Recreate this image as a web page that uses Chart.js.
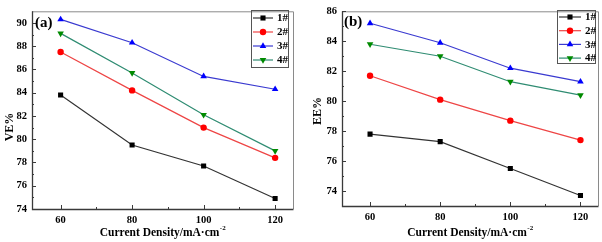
<!DOCTYPE html>
<html>
<head>
<meta charset="utf-8">
<script src="https://cdn.jsdelivr.net/npm/chart.js@4.4.0/dist/chart.umd.min.js"></script>
<style>
  html, body { margin: 0; padding: 0; background: #fff; }
  #wrap { position: relative; width: 602px; height: 242px; }
  #veChart { position: absolute; left: 0; top: 0; }
  #eeChart { position: absolute; left: 300px; top: 0; }
</style>
</head>
<body>
<div id="wrap">
  <canvas id="veChart" width="300" height="242"></canvas>
  <canvas id="eeChart" width="302" height="242"></canvas>
</div>
<script>
// current density (mA/cm2)
const currents = [60, 80, 100, 120];
const seriesNames = ['1#', '2#', '3#', '4#'];

// VE% values
const ve1 = [83.8, 79.5, 77.7, 74.9];
const ve2 = [87.5, 84.2, 81.0, 78.4];
const ve3 = [90.3, 88.3, 85.4, 84.3];
const ve4 = [89.1, 85.7, 82.1, 79.0];

// EE% values
const ee1 = [77.8, 77.3, 75.5, 73.7];
const ee2 = [81.7, 80.1, 78.7, 77.4];
const ee3 = [85.2, 83.9, 82.2, 81.3];
const ee4 = [83.8, 83.0, 81.3, 80.4];

// ticks
const xTicks = [60, 80, 100, 120];
const xMinor = [70, 90, 110];
const veTicks = [74, 76, 78, 80, 82, 84, 86, 88, 90];
const veMinor = [75, 77, 79, 81, 83, 85, 87, 89];
const eeTicks = [74, 76, 78, 80, 82, 84, 86];
const eeMinor = [75, 77, 79, 81, 83, 85];

const lineColors = ['#333333', '#ee4545', '#3a3ad0', '#2f8c72'];
const markColors = ['#000000', '#ff0000', '#0000ff', '#008a00'];
const markStyles = ['rect', 'circle', 'triangle', 'triangle'];
const markRot = [0, 0, 0, 180];
const markRadius = [3.6, 3.2, 3.8, 3.8];

const serif = '"Liberation Serif", "Times New Roman", serif';

function makeDatasets(seriesList) {
    let sets = [];
    for (let i = 0; i < seriesList.length; i++) {
        sets.push({
            label: seriesNames[i],
            data: currents.map((c, j) => ({ x: c, y: seriesList[i][j] })),
            borderColor: lineColors[i],
            borderWidth: 1.2,
            backgroundColor: markColors[i],
            pointBackgroundColor: markColors[i],
            pointBorderColor: markColors[i],
            pointBorderWidth: 0,
            pointStyle: markStyles[i],
            pointRotation: markRot[i],
            pointRadius: markRadius[i],
            tension: 0
        });
    }
    return sets;
}

// frame, inward ticks, titles and in-plot legend
const decorPlugin = {
    id: 'decor',
    afterDraw(chart, args, opts) {
        const ctx = chart.ctx;
        const a = chart.chartArea;
        const xs = chart.scales.x, ys = chart.scales.y;
        ctx.save();

        // frame
        ctx.strokeStyle = '#8a8a8a';
        ctx.lineWidth = 1;
        ctx.beginPath();
        ctx.moveTo(a.left, a.top + 0.5);
        ctx.lineTo(a.right + 0.5, a.top + 0.5);
        ctx.lineTo(a.right + 0.5, a.bottom);
        ctx.stroke();
        ctx.strokeStyle = '#3a3a3a';
        ctx.lineWidth = 1.3;
        ctx.beginPath();
        ctx.moveTo(a.left + 0.5, a.top);
        ctx.lineTo(a.left + 0.5, a.bottom + 0.5);
        ctx.lineTo(a.right + 0.5, a.bottom + 0.5);
        ctx.stroke();

        // inward ticks
        ctx.lineWidth = 1;
        ctx.strokeStyle = '#3a3a3a';
        ctx.beginPath();
        xTicks.forEach(v => {
            let px = Math.round(xs.getPixelForValue(v)) + 0.5;
            ctx.moveTo(px, a.bottom); ctx.lineTo(px, a.bottom - 4);
        });
        xMinor.forEach(v => {
            let px = Math.round(xs.getPixelForValue(v)) + 0.5;
            ctx.moveTo(px, a.bottom); ctx.lineTo(px, a.bottom - 2);
        });
        opts.yMajor.forEach(v => {
            let py = Math.round(ys.getPixelForValue(v)) + 0.5;
            ctx.moveTo(a.left, py); ctx.lineTo(a.left + 4, py);
        });
        opts.yMinor.forEach(v => {
            let py = Math.round(ys.getPixelForValue(v)) + 0.5;
            ctx.moveTo(a.left, py); ctx.lineTo(a.left + 2, py);
        });
        ctx.stroke();

        // panel letter
        ctx.fillStyle = '#000';
        ctx.font = 'bold 15px ' + serif;
        ctx.textAlign = 'left';
        ctx.textBaseline = 'middle';
        ctx.fillText(opts.letter, a.left + opts.letterDx, a.top + opts.letterDy);

        // y title
        ctx.save();
        ctx.translate(opts.yTitleX, opts.yTitleY);
        ctx.rotate(-Math.PI / 2);
        ctx.font = 'bold 12px ' + serif;
        ctx.textAlign = 'center';
        ctx.textBaseline = 'middle';
        ctx.fillText(opts.yTitle, 0, 0);
        ctx.restore();

        // x title with superscript
        ctx.font = 'bold 11.5px ' + serif;
        let main = 'Current Density/mA\u00b7cm';
        let wMain = ctx.measureText(main).width;
        ctx.font = 'bold 7px ' + serif;
        let wSup = ctx.measureText('-2').width;
        let cx = (a.left + a.right) / 2;
        let x0 = cx - (wMain + wSup) / 2;
        ctx.textAlign = 'left';
        ctx.textBaseline = 'middle';
        ctx.font = 'bold 11.5px ' + serif;
        ctx.fillText(main, x0, 233);
        ctx.font = 'bold 7px ' + serif;
        ctx.fillText('-2', x0 + wMain + 0.5, 228);

        // legend
        const L = opts.legend;
        ctx.strokeStyle = '#555';
        ctx.lineWidth = 1;
        ctx.strokeRect(L.x + 0.5, L.y + 0.5, L.w, L.h);
        chart.data.datasets.forEach((ds, i) => {
            let ry = L.y + L.first + i * L.step;
            ctx.strokeStyle = ds.borderColor;
            ctx.lineWidth = 1.2;
            ctx.beginPath();
            ctx.moveTo(L.x + 2, ry);
            ctx.lineTo(L.x + 2 + L.line, ry);
            ctx.stroke();
            ctx.fillStyle = ds.pointBackgroundColor;
            ctx.strokeStyle = ds.pointBorderColor;
            Chart.helpers.drawPoint(ctx, {
                pointStyle: ds.pointStyle,
                rotation: ds.pointRotation,
                radius: ds.pointRadius,
                borderWidth: 0
            }, L.x + 2 + L.line / 2, ry);
            ctx.fillStyle = '#000';
            ctx.font = 'bold 11px ' + serif;
            ctx.textAlign = 'left';
            ctx.textBaseline = 'middle';
            ctx.fillText(ds.label, L.x + L.line + 6, ry + 0.5);
        });

        ctx.restore();
    }
};

function makeChart(id, seriesList, yMin, yMax, yTicks, yMinor, pad, yWidth, xHeight, decor) {
    return new Chart(document.getElementById(id), {
        type: 'line',
        data: { datasets: makeDatasets(seriesList) },
        options: {
            responsive: false,
            animation: false,
            layout: { padding: pad },
            plugins: {
                legend: { display: false },
                tooltip: { enabled: false },
                decor: decor
            },
            scales: {
                x: {
                    type: 'linear',
                    min: 52,
                    max: 125,
                    afterBuildTicks: s => { s.ticks = xTicks.map(v => ({ value: v })); },
                    afterFit: s => { s.height = xHeight; },
                    grid: { display: false, drawTicks: false },
                    border: { display: false },
                    ticks: {
                        padding: 5,
                        color: '#000',
                        font: { family: serif, size: 10.5, weight: 'bold' }
                    }
                },
                y: {
                    min: yMin,
                    max: yMax,
                    afterBuildTicks: s => { s.ticks = yTicks.map(v => ({ value: v })); },
                    afterFit: s => { s.width = yWidth; },
                    grid: { display: false, drawTicks: false },
                    border: { display: false },
                    ticks: {
                        padding: 5,
                        color: '#000',
                        font: { family: serif, size: 10.5, weight: 'bold' }
                    }
                }
            }
        },
        plugins: [decorPlugin]
    });
}

makeChart('veChart', [ve1, ve2, ve3, ve4], 74, 91, veTicks, veMinor,
    { top: 4, right: 7, bottom: 0, left: 0 }, 32, 33,
    {
        letter: '(a)', letterDx: 3, letterDy: 12,
        yTitle: 'VE%', yTitleX: 10, yTitleY: 127,
        yMajor: veTicks, yMinor: veMinor,
        legend: { x: 251, y: 10, w: 37, h: 57, first: 8, step: 14, line: 20 }
    });

makeChart('eeChart', [ee1, ee2, ee3, ee4], 73, 86, eeTicks, eeMinor,
    { top: 7, right: 3, bottom: 0, left: 0 }, 42, 36,
    {
        letter: '(b)', letterDx: 2, letterDy: 11,
        yTitle: 'EE%', yTitleX: 18, yTitleY: 111,
        yMajor: eeTicks, yMinor: eeMinor,
        legend: { x: 257, y: 10, w: 38, h: 53, first: 7, step: 13.7, line: 22 }
    });
</script>
</body>
</html>
